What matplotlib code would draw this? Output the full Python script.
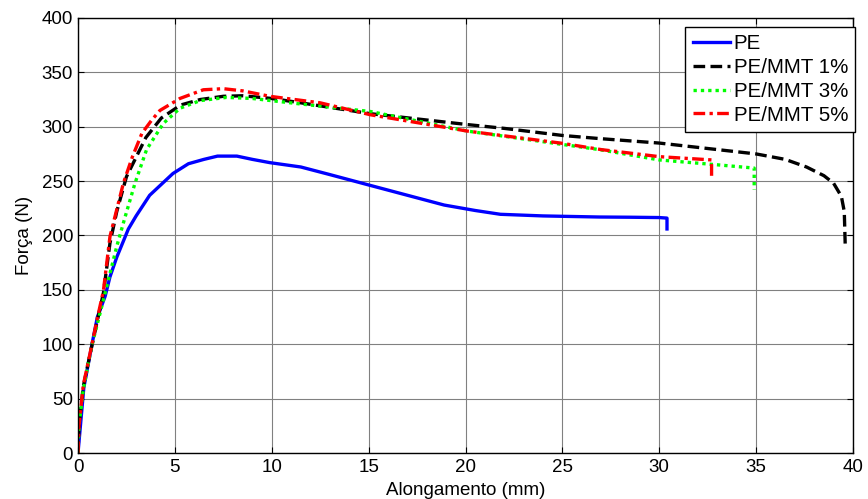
import matplotlib
matplotlib.use("Agg")
import matplotlib.pyplot as plt

plt.rcParams['font.family'] = ['Liberation Sans', 'DejaVu Sans']

# PE
pe_x = [0, 0.3, 0.7, 1.0, 1.4, 1.65, 2.0, 2.6, 3.0, 3.7, 4.9, 5.7, 6.5, 7.2, 8.2, 9.0, 9.9, 11.5, 13.0, 15.1, 17.0, 18.9, 20.5, 21.8, 24.0, 26.9, 28.5, 30.0, 30.4, 30.4]
pe_y = [0, 60, 98, 125, 144, 162, 180, 206, 218, 237, 257, 266, 270, 273, 273, 270, 267, 263, 256, 246, 237, 228, 223, 219.5, 218, 217, 216.8, 216.5, 216, 206]

# PE/MMT 1%
m1_x = [0, 0.05, 0.27, 0.71, 1.0, 1.31, 1.65, 2.0, 2.5, 3.0, 3.5, 4.3, 5.3, 6.3, 7.5, 8.5, 10.0, 11.5, 15.1, 20.1, 22.0, 25.0, 27.0, 30.0, 33.0, 35.0, 36.5, 37.6, 38.5, 39.0, 39.4, 39.55, 39.6]
m1_y = [0, 25, 61, 98, 122, 147, 193, 222, 254, 272, 290, 308, 320, 325, 328, 328.5, 326, 322, 312, 302, 298.5, 292, 289, 285, 279, 275, 270, 263, 255, 248, 236, 222, 190]

# PE/MMT 3%
m3_x = [0, 0.05, 0.27, 0.7, 0.96, 1.3, 1.65, 2.0, 2.43, 2.94, 3.54, 4.4, 5.26, 6.3, 7.67, 9.0, 11.46, 15.1, 20.1, 26.9, 30.0, 33.0, 34.9, 34.9]
m3_y = [0, 25, 58, 98, 116, 140, 165, 190, 217, 248, 279, 303, 317, 324, 327, 326, 321, 314, 296, 279, 269.5, 265, 262, 242]

# PE/MMT 5%
m5_x = [0, 0.05, 0.27, 0.71, 1.0, 1.31, 1.65, 2.34, 2.8, 3.3, 3.8, 4.23, 5.26, 6.47, 7.5, 8.5, 9.9, 12.5, 15.1, 20.1, 24.9, 27.0, 30.0, 32.7, 32.7]
m5_y = [0, 25, 62, 99, 124, 149, 199, 248, 272, 294, 306, 315, 326, 334, 335, 333, 328, 322, 311, 296, 285, 279, 272.5, 269.5, 254]

labels = ['PE', 'PE/MMT 1%', 'PE/MMT 3%', 'PE/MMT 5%']
x_ticks = [0, 5, 10, 15, 20, 25, 30, 35, 40]
y_ticks = [0, 50, 100, 150, 200, 250, 300, 350, 400]

fig = plt.figure(figsize=(8.68, 4.99), dpi=100)
ax = fig.add_axes([78/868, 46/499, (853-78)/868, (453-18)/499])

ax.plot(pe_x, pe_y, color='#0000ff', lw=2.4, label=labels[0])
ax.plot(m1_x, m1_y, color='black', lw=2.4, dashes=(3.5, 1.6), label=labels[1])
ax.plot(m3_x, m3_y, color='#00ff00', lw=2.4, dashes=(1, 1.2), label=labels[2])
ax.plot(m5_x, m5_y, color='#ff0000', lw=2.4, dashes=(3.5, 1.3, 1, 1.3), label=labels[3])

ax.set_xlim(0, 40)
ax.set_ylim(0, 400)
ax.set_xticks(x_ticks)
ax.set_yticks(y_ticks)
ax.grid(True, color='#808080', lw=0.8)
ax.set_axisbelow(True)
ax.tick_params(direction='in', top=True, right=True, labelsize=13.5, length=4)
ax.tick_params(axis='x', pad=4.5)
ax.tick_params(axis='y', pad=3.5)
for s in ax.spines.values():
    s.set_linewidth(1.0)

ax.set_xlabel('Alongamento (mm)', fontsize=13.5, labelpad=4)
ax.set_ylabel('Força (N)', fontsize=13.5, labelpad=6)

leg = ax.legend(loc='upper right', bbox_to_anchor=(1.003, 0.98), fontsize=14.8,
                frameon=True, fancybox=False, edgecolor='black', framealpha=1,
                borderpad=0.35, labelspacing=0.24, handlelength=1.8,
                handletextpad=0.2, borderaxespad=0)
leg.get_frame().set_linewidth(1.0)

fig.savefig('out.png', dpi=100)
